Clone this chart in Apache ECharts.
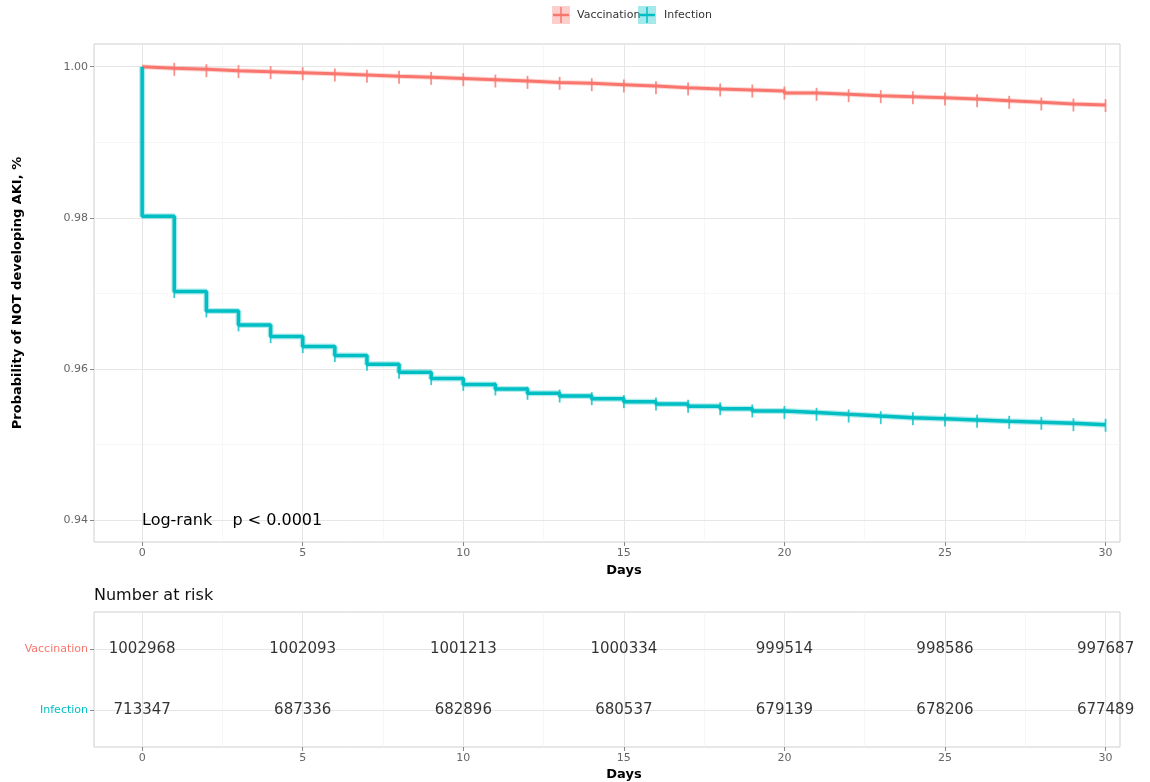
<!DOCTYPE html>
<html><head><meta charset="utf-8">
<script src="https://cdn.jsdelivr.net/npm/echarts@6/dist/echarts.min.js"></script>
<style>html,body{margin:0;padding:0;background:#fff}#c{width:1150px;height:782px}</style>
</head><body><div id="c"></div>
<script>
// ---- data ----
const days = [0,1,2,3,4,5,6,7,8,9,10,11,12,13,14,15,16,17,18,19,20,21,22,23,24,25,26,27,28,29,30];
const vaccination = [0.99978,0.99965,0.99947,0.99934,0.99921,0.99907,0.99890,0.99872,0.99859,0.99845,0.99828,0.99810,0.99792,0.99779,0.99762,0.99745,0.99722,0.99704,0.99691,0.99678,0.99651,0.99634,0.99616,0.99603,0.99589,0.99572,0.99550,0.99528,0.99506,0.99492,0.99485];
const infection = [0.98020,0.97024,0.96768,0.96583,0.96428,0.96296,0.96177,0.96062,0.95956,0.95872,0.95795,0.95735,0.95678,0.95642,0.95607,0.95567,0.95536,0.95506,0.95474,0.95444,0.95424,0.95400,0.95377,0.95355,0.95342,0.95325,0.95307,0.95294,0.95281,0.95263,0.95255];
const startValue = 1.0;
const riskDays = [0,5,10,15,20,25,30];
const riskVaccination = [1002968,1002093,1001213,1000334,999514,998586,997687];
const riskInfection = [713347,687336,682896,680537,679139,678206,677489];
const yTicks = [0.94,0.96,0.98,1.00];
const yMinor = [0.95,0.97,0.99];
const xTicks = [0,5,10,15,20,25,30];
const xMinor = [2.5,7.5,12.5,17.5,22.5,27.5];
const seriesNames = ['Vaccination','Infection'];
const colors = ['#F8766D','#00BFC4'];

const FONT = 'DejaVu Sans';
// step curve built from the data: at each day, vertical drop from previous level to new level
function curve(vals){
  const d=[[days[0],startValue]];
  let prev=startValue;
  days.forEach((t,i)=>{ d.push([t,prev]); d.push([t,vals[i]]); prev=vals[i]; });
  return d;
}
function ticks(vals){ return days.slice(1).map((t,i)=>[t,vals[i+1]]); }

const majorGrid = {color:'#e6e6e6', width:1, type:'solid'};
const minorGrid = {color:'#f2f2f2', width:0.6, type:'solid'};
function gridLines(hMajor,hMinor){
  const d=[];
  hMinor.forEach(v=>d.push({yAxis:v, lineStyle:minorGrid}));
  xMinor.forEach(v=>d.push({xAxis:v, lineStyle:minorGrid}));
  hMajor.forEach(v=>d.push({yAxis:v, lineStyle:majorGrid}));
  xTicks.forEach(v=>d.push({xAxis:v, lineStyle:majorGrid}));
  return d;
}

const chart = echarts.init(document.getElementById('c'), null, {renderer:'canvas'});
function xAxisCommon(idx, gap){ return {
  gridIndex:idx, type:'value', min:-1.5, max:30.45,
  axisLine:{show:false, onZero:false}, splitLine:{show:false},
  axisTick:{show:true, customValues:xTicks, length:4, lineStyle:{color:'#888'}},
  axisLabel:{customValues:xTicks, color:'#666', fontSize:11, fontFamily:FONT, margin:6},
  name:'Days', nameLocation:'middle', nameGap:gap,
  nameTextStyle:{fontWeight:'bold', fontSize:13, color:'#000', fontFamily:FONT, padding:[0,0,0,34]}
};}
const option = {
  animation:false,
  backgroundColor:'#fff',
  grid:[
    {left:94, top:44, width:1026, height:498, show:true, borderColor:'#cfcfcf', borderWidth:1, backgroundColor:'transparent'},
    {left:94, top:612, width:1026, height:135, show:true, borderColor:'#cfcfcf', borderWidth:1, backgroundColor:'transparent'}
  ],
  xAxis:[ xAxisCommon(0,20), xAxisCommon(1,21) ],
  yAxis:[
    {gridIndex:0, type:'value', min:0.9371, max:1.0030, position:'left',
     axisLine:{show:false, onZero:false}, splitLine:{show:false},
     axisTick:{show:true, customValues:yTicks, length:4, lineStyle:{color:'#888'}},
     axisLabel:{customValues:yTicks, formatter:v=>v.toFixed(2), color:'#666', fontSize:11, fontFamily:FONT, margin:6},
     name:'Probability of NOT developing AKI, %', nameLocation:'middle', nameGap:70,
     nameTextStyle:{fontWeight:'bold', fontSize:13, color:'#000', fontFamily:FONT}},
    {gridIndex:1, type:'value', min:0.4, max:2.6, position:'left',
     axisLine:{show:false, onZero:false}, splitLine:{show:false},
     axisTick:{show:true, customValues:[1,2], length:4, lineStyle:{color:'#888'}},
     axisLabel:{customValues:[1,2], formatter:v=> v===2?'{v|'+seriesNames[0]+'}':'{i|'+seriesNames[1]+'}',
       margin:6, rich:{v:{color:colors[0], fontSize:11, fontFamily:FONT}, i:{color:colors[1], fontSize:11, fontFamily:FONT}}}}
  ],
  graphic:[
    {type:'rect', z:20, shape:{x:552,y:6,width:18,height:18}, style:{fill:'rgba(248,118,109,0.35)'}},
    {type:'line', z:21, shape:{x1:553,y1:15,x2:569,y2:15}, style:{stroke:colors[0], lineWidth:2.5}},
    {type:'line', z:21, shape:{x1:561,y1:7,x2:561,y2:23}, style:{stroke:colors[0], lineWidth:1.5}},
    {type:'text', z:20, x:577, y:15, style:{text:seriesNames[0], fontSize:11, fontFamily:FONT, fill:'#333', verticalAlign:'middle'}},
    {type:'rect', z:20, shape:{x:638,y:6,width:18,height:18}, style:{fill:'rgba(0,191,196,0.35)'}},
    {type:'line', z:21, shape:{x1:639,y1:15,x2:655,y2:15}, style:{stroke:colors[1], lineWidth:2.5}},
    {type:'line', z:21, shape:{x1:647,y1:7,x2:647,y2:23}, style:{stroke:colors[1], lineWidth:1.5}},
    {type:'text', z:20, x:664, y:15, style:{text:seriesNames[1], fontSize:11, fontFamily:FONT, fill:'#333', verticalAlign:'middle'}},
    {type:'text', z:20, x:142, y:521, style:{text:'Log-rank    p < 0.0001', fontSize:16, fontFamily:FONT, fill:'#000', verticalAlign:'middle'}},
    {type:'text', z:20, x:94, y:596, style:{text:'Number at risk', fontSize:16, fontFamily:FONT, fill:'#111', verticalAlign:'middle'}}
  ],
  series:[
    {type:'line', xAxisIndex:0, yAxisIndex:0, data:[[0,1]], symbol:'none', lineStyle:{width:0}, silent:true, z:0,
     markLine:{z:0, zlevel:0, silent:true, symbol:['none','none'], label:{show:false}, animation:false, data:gridLines(yTicks,yMinor)}},
    {type:'line', xAxisIndex:1, yAxisIndex:1, data:[[0,1]], symbol:'none', lineStyle:{width:0}, silent:true, z:0,
     markLine:{z:0, zlevel:0, silent:true, symbol:['none','none'], label:{show:false}, animation:false, data:gridLines([1,2],[])}},
    // CI-like halo
    {type:'line', xAxisIndex:0, yAxisIndex:0, data:curve(vaccination), symbol:'none', clip:false, z:6,
     lineStyle:{color:colors[0], width:5, opacity:0.3}, silent:true},
    {type:'line', xAxisIndex:0, yAxisIndex:0, data:curve(infection), symbol:'none', clip:false, z:6,
     lineStyle:{color:colors[1], width:6, opacity:0.3}, silent:true},
    {name:seriesNames[0], type:'line', xAxisIndex:0, yAxisIndex:0, data:curve(vaccination), symbol:'none', clip:false, z:7,
     lineStyle:{color:colors[0], width:3}},
    {name:seriesNames[1], type:'line', xAxisIndex:0, yAxisIndex:0, data:curve(infection), symbol:'none', clip:false, z:7,
     lineStyle:{color:colors[1], width:3.5}},
    {type:'scatter', xAxisIndex:0, yAxisIndex:0, data:ticks(vaccination), symbol:'rect', symbolSize:[1.8,13], itemStyle:{color:colors[0]}, z:8, silent:true},
    {type:'scatter', xAxisIndex:0, yAxisIndex:0, data:ticks(infection), symbol:'rect', symbolSize:[1.8,13], itemStyle:{color:colors[1]}, z:8, silent:true},
    {type:'scatter', xAxisIndex:1, yAxisIndex:1, symbolSize:0, silent:true, z:8,
     data:riskDays.map((d,i)=>[d,2,riskVaccination[i]]),
     label:{show:true, position:'inside', formatter:p=>String(p.value[2]), fontSize:15, fontFamily:FONT, color:'#000'}},
    {type:'scatter', xAxisIndex:1, yAxisIndex:1, symbolSize:0, silent:true, z:8,
     data:riskDays.map((d,i)=>[d,1,riskInfection[i]]),
     label:{show:true, position:'inside', formatter:p=>String(p.value[2]), fontSize:15, fontFamily:FONT, color:'#000'}}
  ]
};
chart.setOption(option);
</script></body></html>
